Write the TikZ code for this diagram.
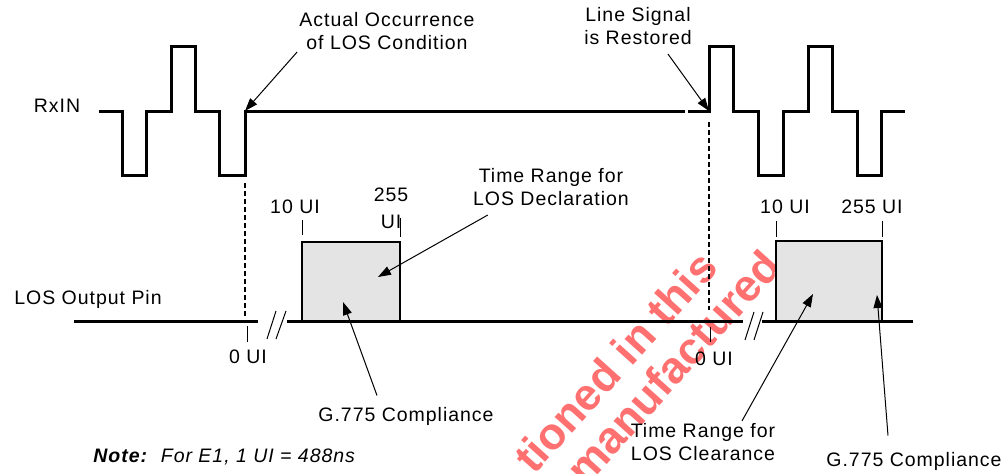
\documentclass[tikz,border=0pt]{standalone}
\usepackage{fontspec}
\setmainfont{Liberation Sans}[LetterSpace=5]
\newfontfamily\wmfont{Liberation Sans}
\usetikzlibrary{arrows.meta}
\usetikzlibrary{calc}
\definecolor{boxgray}{RGB}{228,228,228}
\definecolor{wmred}{RGB}{255,112,112}

\begin{document}
\begin{tikzpicture}[x=0.5pt,y=-0.5pt,
	every node/.style={inner sep=1pt,align=center,font=\fontsize{9.75}{11.5}\selectfont},
	wave/.style={line width=1.5pt},
	cue/.style={line width=1pt,dash pattern=on 2.5pt off 1.5pt},
	uitick/.style={line width=0.5pt},
	brk/.style={line width=0.5pt},
	winbox/.style={draw,fill=boxgray,line width=0.6pt,inner sep=0pt,outer sep=0pt,anchor=south west},
	arr/.style={line width=0.5pt,-{Triangle[length=6.5pt,width=4.5pt]}}]
	 \useasboundingbox (0,0) rectangle (1008,474);
	 %
	 %Wasserzeichen
	 \begin{scope}
	 \clip (0,0) rectangle (1008,474);
	 \node[rotate=48,text=wmred,font=\wmfont\bfseries\fontsize{22.3}{26}\selectfont] (wmA) at (615,362) {tioned in this};
	 \node[rotate=48,text=wmred,font=\wmfont\bfseries\fontsize{22.3}{26}\selectfont] (wmB) at (673,367) {manufactured};
	 \end{scope}
	 %
	 \node (rxin) at (57,106) {RxIN};
	 %
	 \node (lospin) at (88,299) {LOS Output Pin};
	 %
	 \node (occ) at (387,31) {Actual Occurrence\\of LOS Condition};
	 %
	 \node (rest) at (638,26) {Line Signal\\is Restored};
	 %
	 \node (decl) at (551,187) {Time Range for\\LOS Declaration};
	 %
	 \node (clr) at (703,442) {Time Range for\\LOS Clearance};
	 %
	 \node (cmpL) at (406,416) {G.775 Compliance};
	 %
	 \node (cmpR) at (914,461) {G.775 Compliance};
	 %
	 \node[anchor=west] (note) at (91,457) {\textbf{\textit{Note:}}\ \ \textit{For E1, 1 UI = 488ns}};
	 %
	 %UI-Marken
	 \node (zeroL) at (248,357) {0 UI};
	 \node (tenL) at (295,207) {10 UI};
	 \node (maxL) at (391,208) {255\\[2pt]UI};
	 \node (zeroR) at (714,359) {0 UI};
	 \node (tenR) at (785,207) {10 UI};
	 \node (maxR) at (872,207) {255 UI};
	 %
	 %Zeitfenster
	 \node[winbox,minimum width=49pt,minimum height=40pt] (declBox) at (302,322) {};
	 \node[winbox,minimum width=53pt,minimum height=40.5pt] (clrBox) at (776,322) {};
	 %
	 %RxIN-Signal
	 \draw[wave] (99,112) -- (122,112) -- (122,176) -- (146,176) -- (146,112) -- (171,112) -- (171,47) -- (195,47) -- (195,112) -- (219,112) -- (219,176) -- (245,176) -- (245,112) -- (685,112);
	 \draw[wave] (688,112) -- (709,112) -- (709,47) -- (733,47) -- (733,112) -- (758,112) -- (758,176) -- (783,176) -- (783,112) -- (808,112) -- (808,47) -- (832,47) -- (832,112) -- (857,112) -- (857,176) -- (881,176) -- (881,112) -- (905,112);
	 %
	 %Hilfslinien
	 \draw[cue] (245,183) -- (245,316);
	 \draw[cue] (709,122) -- (709,310);
	 %
	 %LOS-Ausgang
	 \draw[wave] (74,322) -- (258,322);
	 \draw[wave] (287,322) -- (743,322);
	 \draw[wave] (762,322) -- (913,322);
	 \draw[brk] (267,339) -- (276,311);
	 \draw[brk] (276,339) -- (286,311);
	 \draw[brk] (745,340) -- (754,312);
	 \draw[brk] (754,340) -- (763,312);
	 %
	 %Striche
	 \draw[uitick] (247,326) -- (247,342);
	 \draw[uitick] (302,220) -- (302,235);
	 \draw[uitick] (400,218) -- (400,237);
	 \draw[uitick] (710,327) -- (710,342);
	 \draw[uitick] (776,221) -- (776,237);
	 \draw[uitick] (882,221) -- (882,237);
	 %
	 %Pfeile
	 \coordinate (occTip) at (245,111);
	 \coordinate (restTip) at (709,111);
	 \coordinate (declTip) at (378,277);
	 \coordinate (cmpLTip) at (343,302);
	 \coordinate (clrTip) at (813,294);
	 \coordinate (cmpRTip) at (877,295);
	 \draw[arr] (occ.south west) -- (occTip);
	 \draw[arr] ($(rest.south)+(30,7)$) -- (restTip);
	 \draw[arr] ($(decl.south west)+(17,7)$) -- (declTip);
	 \draw[arr] ($(cmpL.north)+(-29,-9)$) -- (cmpLTip);
	 \draw[arr] ($(clr.north)+(39,0)$) -- (clrTip);
	 \draw[arr] ($(cmpR.north)+(-26,-14)$) -- (cmpRTip);
\end{tikzpicture}
\end{document}
